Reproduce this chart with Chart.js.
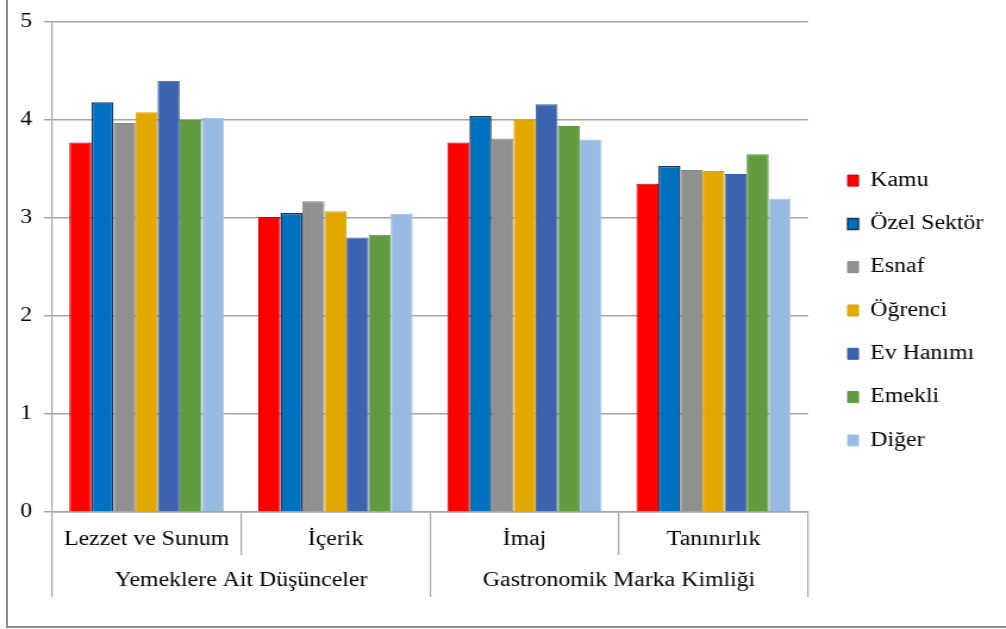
<!DOCTYPE html>
<html>
<head>
<meta charset="utf-8">
<script src="https://cdn.jsdelivr.net/npm/chart.js@4/dist/chart.umd.min.js"></script>
<style>
  html, body { margin: 0; padding: 0; background: #fff; overflow: hidden; width: 1006px; height: 629px; }
  /* chart frame: only the left and bottom edges fall inside the page */
  #frame { position: absolute; left: 6px; top: -10px; width: 1200px; height: 638px; box-sizing: border-box; border: 2px solid #8c8c8c; }
  /* the chart is laid out narrower and stretched horizontally */
  #wrap { position: absolute; left: 0; top: 0; width: 845px; height: 629px; transform: scaleX(1.1905); transform-origin: 0 0; }
</style>
</head>
<body>
<div id="frame"></div>
<div id="wrap"><canvas id="c"></canvas></div>
<script>
// Sub-categories on the first axis row and their groups on the second row
const categories = ['Lezzet ve Sunum', 'İçerik', 'İmaj', 'Tanınırlık'];
const groups = ['Yemeklere Ait Düşünceler', 'Gastronomik Marka Kimliği'];
const yTicks = [0, 1, 2, 3, 4, 5];

// Mean scores per occupation group
const seriesNames = ['Kamu', 'Özel Sektör', 'Esnaf', 'Öğrenci', 'Ev Hanımı', 'Emekli', 'Diğer'];
const kamu      = [3.77, 3.01, 3.77, 3.35];
const ozelSektor = [4.18, 3.05, 4.04, 3.53];
const esnaf     = [3.97, 3.17, 3.81, 3.49];
const ogrenci   = [4.08, 3.07, 4.00, 3.48];
const evHanimi  = [4.40, 2.80, 4.16, 3.45];
const emekli    = [4.00, 2.83, 3.94, 3.65];
const diger     = [4.02, 3.04, 3.80, 3.20];
const seriesValues = [kamu, ozelSektor, esnaf, ogrenci, evHanimi, emekli, diger];

// Fill and outline colours per series
const fills   = ['#FF0000', '#0070C0', '#909090', '#E2A800', '#3C64AE', '#629A3F', '#99BAE0'];
const borders = ['#D00000', '#17375E', '#888888', '#DDA400', '#3A5FA6', '#5E963C', '#A6C4E6'];

const FONT = "'Liberation Serif', 'Times New Roman', serif";
const GRID = '#a6a6a6';

const datasets = seriesNames.map((name, i) => ({
  label: name,
  data: seriesValues[i],
  backgroundColor: fills[i],
  borderColor: borders[i],
  borderWidth: i === 1 ? 1.5 : 1,
  categoryPercentage: 0.817,
  barPercentage: 1.0
}));

new Chart(document.getElementById('c'), {
  type: 'bar',
  data: { labels: categories, datasets },
  options: {
    responsive: true,
    maintainAspectRatio: false,
    animation: false,
    layout: { padding: { top: 22, left: 0, right: 18.5, bottom: 30 } },
    plugins: {
      tooltip: { enabled: false },
      legend: {
        position: 'right',
        labels: {
          font: { family: FONT, size: 20 },
          color: '#000',
          boxWidth: 9,
          boxHeight: 11,
          padding: 23.3
        }
      }
    },
    scales: {
      y: {
        min: yTicks[0],
        max: yTicks[yTicks.length - 1],
        ticks: { stepSize: 1, padding: 9.8, color: '#000', font: { family: FONT, size: 20 } },
        grid: { color: GRID, lineWidth: 1.5, tickLength: 7 },
        border: { color: GRID, width: 1.2 },
        afterFit(s) { s.width = 43.7; }
      },
      x: {
        weight: 1,
        offset: true,
        ticks: { autoSkip: false, maxRotation: 0, padding: -27, color: '#000', font: { family: FONT, size: 20 } },
        grid: { display: true, offset: true, drawOnChartArea: false, color: GRID, lineWidth: 1.2, tickLength: 43 },
        border: { color: GRID, width: 1.5 },
        afterFit(s) { s.height = 43; }
      },
      x2: {
        type: 'category',
        position: 'bottom',
        weight: 2,
        labels: groups,
        offset: true,
        ticks: { autoSkip: false, maxRotation: 0, padding: -28, color: '#000', font: { family: FONT, size: 20 } },
        grid: { display: true, offset: true, drawOnChartArea: false, color: GRID, lineWidth: 1.2, tickLength: 42 },
        border: { display: false },
        afterFit(s) { s.height = 44; }
      },
      // empty spacer between the plot and the legend
      gap: {
        type: 'linear',
        position: 'right',
        display: true,
        ticks: { display: false },
        grid: { display: false },
        border: { display: false },
        afterFit(s) { s.width = 10; }
      }
    }
  }
});
</script>
</body>
</html>
